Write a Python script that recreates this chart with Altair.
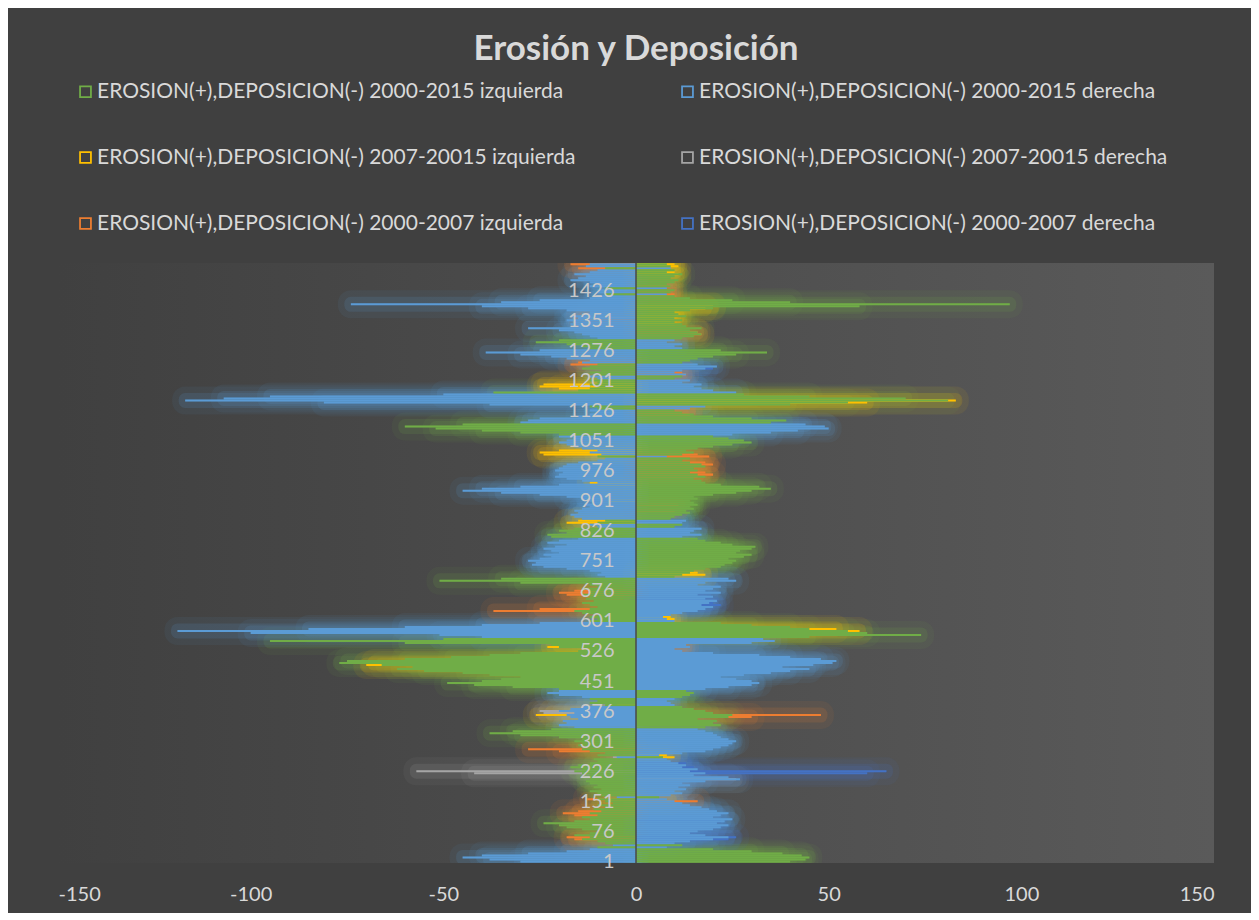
import altair as alt
import pandas as pd

SERIES = [
    "EROSION(+),DEPOSICION(-) 2000-2015 izquierda",
    "EROSION(+),DEPOSICION(-) 2000-2015 derecha",
    "EROSION(+),DEPOSICION(-) 2007-20015 izquierda",
    "EROSION(+),DEPOSICION(-) 2007-20015 derecha",
    "EROSION(+),DEPOSICION(-) 2000-2007 izquierda",
    "EROSION(+),DEPOSICION(-) 2000-2007 derecha",
]
COLORS = ["#70ad47", "#5b9bd5", "#ffc000", "#a5a5a5", "#ed7d31", "#4472c4"]

# categories (every 5th profile) and tick labels
ROWS = list(range(1, 1492, 5))
Y_TICKS = [1, 76, 151, 226, 301, 376, 451, 526, 601, 676, 751, 826, 901, 976,
           1051, 1126, 1201, 1276, 1351, 1426]
X_TICKS = [-150, -100, -50, 0, 50, 100, 150]

# 2000-2015 izquierda (green)
G = [40, 44, 45, 43, 38, 30, 20, -10, 12, -8, -10, -14, -12, -16, -12,
     -10, -14, -18, -20, -24, -16, -12, -14, -10, -12, -9, -11, -8, -10, -6,
     -8, -10, 6, -9, -10, -12, -9, -11, -10, -12, -13, -12, -14, -12, -14,
     -16, -14, -17, -15, -12, -10, -11, 7, -10, -8, -12, -14, -13, -15, -14,
     -16, -14, -20, -30, -38, -32, -22, 18, 22, 20, 21, 16, 24, 25, 20,
     18, 15, 12, -8, -12, -10, -12, 12, 14, 15, 13, -20, -32, -42, -49,
     -40, -35, -30, -38, -45, -55, -62, -58, -66, -77, -75, -60, -48, -38, -30,
     -15, -12, -20, -22, -60, -95, -50, 45, 74, 60, 55, 45, 40, 30, 22,
     -12, -10, -12, -10, -14, -16, -12, -10, -12, -14, -11, -13, -12, -14, -12,
     -12, -14, -10, -12, -30, -51, -35, 10, 12, 14, 15, 18, 22, 23, 25,
     26, 24, 28, 30, 26, 27, 30, 31, 25, 22, 18, 16, -22, -23, -18,
     -20, -16, 10, 12, -10, -8, 9, 10, 12, 14, 13, 15, 14, 16, 15,
     14, 16, 15, 20, 26, 30, 35, 32, 22, 18, 17, 15, 18, 16, 14,
     16, 15, 18, 17, 14, 12, 14, -10, 12, 15, 13, 16, 20, 25, 30,
     28, 24, 20, -20, -30, -40, -52, -60, -45, 35, 39, 30, 20, 15, 12,
     10, -10, -12, 40, 55, 81, 70, 45, 28, -37, -15, -12, -10, -12, -10,
     -12, 10, 12, -10, -12, -9, -14, -12, -10, 12, 14, 16, 20, 26, 34,
     22, -12, -14, -18, -26, -20, 12, 15, 17, 16, 14, 17, 13, 12, 10,
     12, 10, 13, 11, 10, 14, 20, 58, 97, 40, 25, 14, 10, -8, 9,
     10, -8, 9, 8, 10, 11, 9, 10, 12, 8, 10, -8, 9, 8]

# 2000-2015 derecha (light blue)
B = [-30, -38, -45, -40, -28, -18, -12, 8, -6, 10, 14, 20, 24, 18, 14,
     16, 20, 22, 24, 21, 23, 25, 20, 22, 24, 21, 19, 17, 14, 12,
     10, 8, -5, 9, 12, 10, 13, 11, 14, 12, 18, 27, 24, 15, 18,
     14, 16, 12, 13, 11, 9, 8, -5, 6, 12, 18, 20, 22, 24, 25,
     26, 24, 22, 21, 20, 18, 16, -16, -20, -18, -19, -15, -17, -18, -16,
     -20, -17, -14, 10, 9, 8, 10, -14, -20, -23, -20, 18, 24, 30, 32,
     30, 26, 22, 28, 35, 40, 45, 38, 46, 51, 52, 48, 40, 32, 20,
     12, 10, 14, 13, 30, 36, 33, -40, -51, -100, -119, -85, -60, -40, -25,
     10, 8, 7, 9, 12, 16, 18, 20, 17, 19, 21, 18, 20, 16, 22,
     18, 20, 22, 16, 18, 26, 24, -8, -10, -9, -12, -18, -24, -27, -26,
     -28, -25, -22, -24, -20, -22, -24, -21, -18, -23, -20, -15, 12, 17, 14,
     15, 17, -10, -12, 12, 13, -14, -16, -17, -15, -16, -14, -12, -13, -11,
     -12, -14, -18, -25, -35, -45, -40, -30, -20, -10, -14, -18, -21, -20, -19,
     -21, -20, -19, -18, -15, -10, -8, 8, -9, -12, -10, -14, -16, -18, -20,
     -18, -16, -20, 25, 35, 42, 50, 49, 44, -30, -28, -25, -15, -12, -10,
     -12, 14, 18, -38, -81, -117, -107, -95, -50, 26, 20, 17, 15, 17, 12,
     14, -10, -12, 13, 10, 12, 18, 21, 16, -14, -12, -18, -22, -30, -39,
     -25, 12, 10, 12, 8, 10, -10, -12, -14, -16, -20, -28, -15, -17, -16,
     -18, -15, -17, -14, -12, -18, -28, -40, -74, -35, -25, -12, -10, 8, -10,
     -10, 8, -12, -10, -12, -17, -15, -13, -16, -12, -10, 9, -13, -12]

# 2007-20015 izquierda (gold) - visible profiles only
Y_CAT = [151, 156, 261, 266, 366, 371, 386, 391, 491, 496, 536, 541, 576, 581,
         606, 611, 716, 721, 846, 851, 901, 941, 946, 1016, 1021, 1026, 1146,
         1151, 1181, 1186, 1191, 1341, 1346, 1356, 1361, 1381, 1386, 1466, 1471,
         1486, 1491]
Y_VAL = [9, -7, 10, 8, -26, -22, -6, -5, -70, -68, -23, -20, 58, 52,
         10, 9, 18, 16, -18, -15, -7, -10, -12, -24, -25, -20, 60,
         83, -20, -25, -24, 10, 9, 10, 11, 18, 20, 11, 10,
         11, 10]

# 2007-20015 derecha (gray)
W_CAT = [206, 221, 226, 261, 371, 376, 1356]
W_VAL = [26, -42, -57, -6, -24, -25, -15]

# 2000-2007 izquierda (orange)
O_CAT = [56, 61, 116, 121, 126, 151, 156, 276, 281, 361, 366, 536, 541, 626,
         631, 666, 671, 676, 876, 891, 961, 966, 971, 991, 996, 1011, 1016,
         1116, 1121, 1131, 1216, 1221, 1241, 1246, 1316, 1321, 1351, 1411,
         1416, 1421, 1436, 1481, 1491]
O_VAL = [-16, -18, -16, -19, -15, 16, -13, -20, -28, 30, 48, 13, 12, -37,
         -25, -18, -20, -16, 10, 11, 16, 20, 18, 20, 18, 19, 16,
         14, 12, 14, 13, 12, -17, -15, 17, 16, -14, 9,
         10, 9, 9, -15, -17]

# 2000-2007 derecha (dark blue)
D_CAT = [56, 61, 101, 221, 226, 236, 246, 641, 646, 656, 851, 1231]
D_VAL = [24, 26, 22, 60, 65, 15, 13, 22, 20, 18, 12, 20]

# ---------------------------------------------------------------- table
rec = []
draw = [(2, Y_CAT, Y_VAL), (3, W_CAT, W_VAL), (4, O_CAT, O_VAL),
        (5, D_CAT, D_VAL), (1, ROWS, B), (0, ROWS, G)]
for order, (si, cats, vals) in enumerate(draw):
    for c, v in zip(cats, vals):
        rec.append({"series": SERIES[si], "cat": c, "lo": c - 2.5,
                    "hi": c + 2.5, "value": v, "ord": order})
df = pd.DataFrame(rec)

W_PLOT, H_PLOT = 1156, 600
FONT = "Lato"

x_enc = alt.X("value:Q", scale=alt.Scale(domain=[-150, 150], nice=False),
              axis=alt.Axis(values=X_TICKS, labelExpr="'' + datum.value",
                            grid=False, domain=False, ticks=False,
                            labelColor="#d9d9d9", labelFontSize=20,
                            labelFont=FONT, labelPadding=21, title=None))
y_enc = alt.Y("lo:Q", scale=alt.Scale(domain=[-3, 1494], nice=False, zero=False),
              axis=alt.Axis(values=Y_TICKS, labelExpr="'' + datum.value",
                            grid=False, domain=False, ticks=False,
                            labelColor="#c8c8c8", labelFontSize=20,
                            labelFont=FONT, labelPadding=22, offset=-578,
                            zindex=1, title=None))
y2_enc = alt.Y2("hi:Q")

bg = alt.Chart(pd.DataFrame({"a": [0]})).mark_rect(
    color=alt.LinearGradient(
        gradient="linear",
        stops=[alt.GradientStop(color="#404040", offset=0),
               alt.GradientStop(color="#5a5a5a", offset=1)],
        x1=0, x2=1, y1=0, y2=0)
).encode(x=alt.value(0), x2=alt.value(W_PLOT), y=alt.value(0), y2=alt.value(H_PLOT))

glows = []
for si, col in enumerate(COLORS):
    for sw, op in [(26, 0.07), (13, 0.14)]:
        glows.append(
            alt.Chart(df).transform_filter(alt.datum.series == SERIES[si])
            .mark_rect(fill=col, stroke=col, strokeWidth=sw, strokeOpacity=op,
                       fillOpacity=op, strokeJoin="round", clip=True)
            .encode(x=x_enc, x2=alt.datum(0), y=y_enc, y2=y2_enc)
        )

# hollow square drawn as a ring path (outer clockwise, inner counter-clockwise)
RING = "M-1,-1H1V1H-1Z M-0.72,-0.72V0.72H0.72V-0.72Z"

legend = alt.Legend(
    title=None, orient="none", legendX=17, legendY=-182, columns=2,
    direction="horizontal",
    symbolType=RING, symbolSize=160, symbolStrokeWidth=0, symbolOpacity=1,
    labelFont=FONT, labelFontSize=21, labelColor="#d9d9d9", labelLimit=800,
    columnPadding=101, rowPadding=44, gridAlign="all", labelOffset=1, padding=0,
)

bars = alt.Chart(df).mark_rect(clip=True).encode(
    x=x_enc, x2=alt.datum(0), y=y_enc, y2=y2_enc,
    fill=alt.Fill("series:N", scale=alt.Scale(domain=SERIES, range=COLORS),
                  legend=legend),
    order=alt.Order("ord:Q"),
)

zero = alt.Chart(pd.DataFrame({"a": [0]})).mark_rule(color="#484848", strokeWidth=1.5).encode(
    x=alt.datum(0))

chart = alt.layer(bg, *glows, bars, zero).properties(
    width=W_PLOT, height=H_PLOT,
    title=alt.TitleParams("Erosión y Deposición", fontSize=35, font=FONT,
                          fontWeight="bold", color="#d9d9d9", anchor="middle",
                          offset=14),
    padding={"left": 50, "top": 255, "right": 37, "bottom": 50},
    autosize="none",
    background="#404040",
).configure_view(stroke=None)

chart.save("out.html", embed_options={"renderer": "svg", "actions": False})
